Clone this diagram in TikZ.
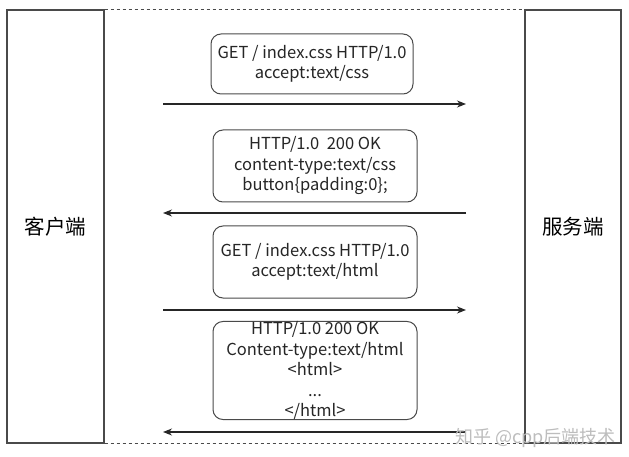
\documentclass[tikz,border=0pt]{standalone}
\usepackage{fontspec}
\setmainfont{Noto Sans CJK SC}
\usetikzlibrary{arrows.meta}
\definecolor{edge}{HTML}{4A4A4A}
\definecolor{mark}{HTML}{BDBDBD}
\begin{document}
\begin{tikzpicture}[x=1pt,y=-1pt,
  lane/.style={draw=edge,line width=1.2pt,minimum width=#1,inner sep=0pt,font=\fontsize{20.5}{24}\selectfont},
  msg/.style={draw=edge,line width=1pt,rounded corners=10pt,align=center,inner sep=0pt,
    text=black!85,font=\fontsize{16.5}{20.5}\selectfont},
  flow/.style={draw=black!85,line width=1.1pt,-{Stealth[length=9pt,width=7pt]}},
  bound/.style={draw=edge,line width=1pt,dash pattern=on 3pt off 3pt}]
\useasboundingbox (0,0) rectangle (629,457);
\fill[white] (0,0) rectangle (629,457);
\node[lane=97pt,minimum height=433pt] (client) at (55.5,226.5) {客户端};
\node[lane=96pt,minimum height=433pt] (server) at (573,226.5) {服务端};
\draw[bound] (client.north east) -- (server.north west);
\draw[bound] (client.south east) -- (server.south west);
\node[msg,minimum width=202pt,minimum height=60pt] (m1) at (312,64) {GET / index.css HTTP/1.0\\accept:text/css};
\node[msg,minimum width=204pt,minimum height=72pt] (m2) at (315,166) {HTTP/1.0\ \ 200 OK\\content-type:text/css\\button\{padding:0\};};
\node[msg,minimum width=204pt,minimum height=72pt] (m3) at (315,262) {GET / index.css HTTP/1.0\\accept:text/html};
\node[msg,minimum width=204pt,minimum height=95pt] (m4) at (315,370.5) {HTTP/1.0 200 OK\\Content-type:text/html\\<html>\\...\\</html>};
\coordinate (a1l) at (163,104); \coordinate (a1r) at (466,104);
\coordinate (a2l) at (163,213); \coordinate (a2r) at (466,213);
\coordinate (a3l) at (163,310); \coordinate (a3r) at (466,310);
\coordinate (a4l) at (163,432); \coordinate (a4r) at (466,432);
\draw[flow] (a1l) -- (a1r);
\draw[flow] (a2r) -- (a2l);
\draw[flow] (a3l) -- (a3r);
\draw[flow] (a4r) -- (a4l);
\node[text=mark,font=\fontsize{18}{20}\selectfont,anchor=west,inner sep=0pt] (wm) at (455,438) {知乎 @cpp后端技术};
\end{tikzpicture}
\end{document}
